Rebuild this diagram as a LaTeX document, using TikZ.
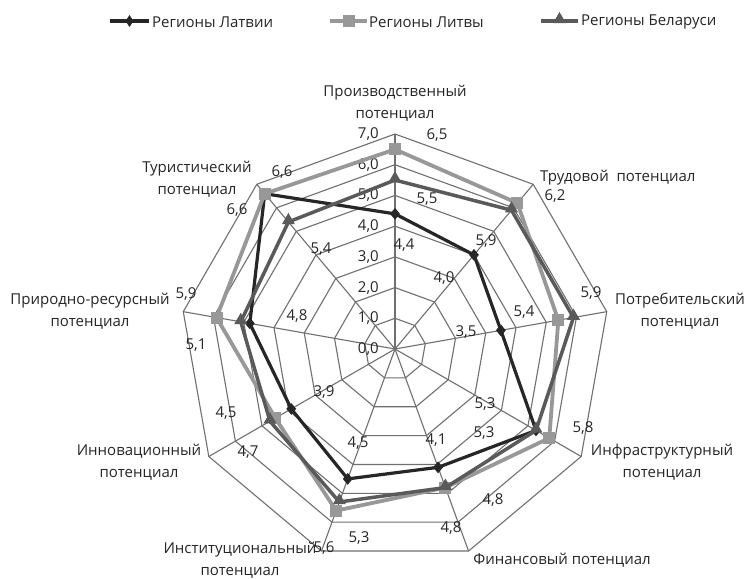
\documentclass[tikz,border=0pt]{standalone}
\usepackage{fontspec}
\setmainfont{Open Sans}
\usetikzlibrary{shapes.geometric,calc}
\definecolor{cLat}{HTML}{262626}
\definecolor{cLit}{HTML}{989898}
\definecolor{cBel}{HTML}{5A5A5A}
\definecolor{cGrid}{HTML}{707070}
\tikzset{
  gridline/.style={draw=cGrid,line width=1.1pt},
  latline/.style={draw=cLat,line width=3.2pt,line join=round},
  litline/.style={draw=cLit,line width=3.8pt,line join=round},
  belline/.style={draw=cBel,line width=3.5pt,line join=round},
  latmark/.style={diamond,fill=cLat,draw=none,minimum width=10pt,minimum height=12pt,inner sep=0pt},
  litmark/.style={rectangle,fill=cLit,draw=none,minimum size=12pt,inner sep=0pt},
  belmark/.style={regular polygon,regular polygon sides=3,fill=cBel,draw=none,minimum size=15pt,inner sep=0pt},
  vlab/.style={font=\fontsize{15}{18}\selectfont,inner sep=0pt,text=black!85},
  alab/.style={font=\fontsize{15}{22}\selectfont,inner sep=0pt,align=center,text=black!85},
  leg/.style={font=\fontsize{15}{18}\selectfont,inner sep=0pt,anchor=west,text=black!85}
}
\begin{document}
\begin{tikzpicture}[x=1pt,y=-1pt]
\useasboundingbox (0,0) rectangle (749,578);
\fill[white] (0,0) rectangle (749,578);
\coordinate (C) at (395,349);
\def\u{30.714}
% grid coordinates
\foreach \r in {1,...,7}{
  \foreach \k in {0,...,8}{
    \coordinate (g\r-\k) at ($(C)+(-90+40*\k:\r*\u)$);
  }
}
\foreach \r in {1,...,7}{
  \draw[gridline] (g\r-0)--(g\r-1)--(g\r-2)--(g\r-3)--(g\r-4)--(g\r-5)--(g\r-6)--(g\r-7)--(g\r-8)--cycle;
}
\foreach \k in {0,...,8}{
  \draw[gridline] (C)--(g7-\k);
}
% tick labels
\foreach \r/\t in {0/{0,0},1/{1,0},2/{2,0},3/{3,0},4/{4,0},5/{5,0},6/{6,0},7/{7,0}}{
  \node[vlab,anchor=east] (tick\r) at ($(C)+(-16,-\r*\u)$) {\t};
}
% series coordinates
\foreach \v [count=\i from 0] in {4.4,4.0,3.5,5.3,4.1,4.5,3.9,4.8,6.6}{
  \coordinate (lat\i) at ($(C)+(-90+40*\i:\v*\u)$);
}
\foreach \v [count=\i from 0] in {6.5,6.2,5.4,5.8,4.8,5.6,4.5,5.9,6.6}{
  \coordinate (lit\i) at ($(C)+(-90+40*\i:\v*\u)$);
}
\foreach \v [count=\i from 0] in {5.5,5.9,5.9,5.3,4.8,5.3,4.7,5.1,5.4}{
  \coordinate (bel\i) at ($(C)+(-90+40*\i:\v*\u)$);
}
\draw[latline] (lat0)--(lat1)--(lat2)--(lat3)--(lat4)--(lat5)--(lat6)--(lat7)--(lat8)--cycle;
\foreach \i in {0,...,8}{\node[latmark] (latm\i) at (lat\i) {};}
\draw[litline] (lit0)--(lit1)--(lit2)--(lit3)--(lit4)--(lit5)--(lit6)--(lit7)--(lit8)--cycle;
\foreach \i in {0,...,8}{\node[litmark] (litm\i) at (lit\i) {};}
\draw[belline] (bel0)--(bel1)--(bel2)--(bel3)--(bel4)--(bel5)--(bel6)--(bel7)--(bel8)--cycle;
\foreach \i in {0,...,8}{\node[belmark] (belm\i) at ($(bel\i)+(0,-1.5)$) {};}
% value labels
\node[vlab] (v01) at (437,135) {6,5};
\node[vlab] (v02) at (427,199) {5,5};
\node[vlab] (v03) at (404,245) {4,4};
\node[vlab] (v11) at (555,196) {6,2};
\node[vlab] (v12) at (486,241) {5,9};
\node[vlab] (v13) at (444,278) {4,0};
\node[vlab] (v21) at (591,293) {5,9};
\node[vlab] (v22) at (524,312) {5,4};
\node[vlab] (v23) at (466,332) {3,5};
\node[vlab] (v31) at (583,428) {5,8};
\node[vlab] (v32) at (485,404) {5,3};
\node[vlab] (v33) at (484,433) {5,3};
\node[vlab] (v41) at (436,440) {4,1};
\node[vlab] (v42) at (493,500) {4,8};
\node[vlab] (v43) at (451,528) {4,8};
\node[vlab] (v51) at (324,548) {5,6};
\node[vlab] (v52) at (359,538) {5,3};
\node[vlab] (v53) at (358,443) {4,5};
\node[vlab] (v61) at (226,413) {4,5};
\node[vlab] (v62) at (248,452) {4,7};
\node[vlab] (v63) at (324,392) {3,9};
\node[vlab] (v71) at (186,294) {5,9};
\node[vlab] (v72) at (196,345) {5,1};
\node[vlab] (v73) at (297,316) {4,8};
\node[vlab] (v81) at (282,172) {6,6};
\node[vlab] (v82) at (237,210) {6,6};
\node[vlab] (v83) at (321,249) {5,4};
% axis labels
\node[alab] (a0) at (395,103.5) {Производственный\\потенциал};
\node[alab,anchor=west] (a1) at (540,178) {Трудовой\ \ потенциал};
\node[alab] (a2) at (680,311.5) {Потребительский\\потенциал};
\node[alab] (a3) at (662,462) {Инфраструктурный\\потенциал};
\node[alab] (a4) at (562,560) {Финансовый потенциал};
\node[alab] (a5) at (240,560.5) {Институциональный\\потенциал};
\node[alab] (a6) at (139,462.5) {Инновационный\\потенциал};
\node[alab] (a7) at (90,311.5) {Природно-ресурсный\\потенциал};
\node[alab] (a8) at (197,179) {Туристический\\потенциал};
% legend
\coordinate (l1a) at (110,21); \coordinate (l1b) at (149,21);
\draw[latline] (l1a)--(l1b);
\node[latmark,minimum width=8pt] (lm1) at ($(l1a)!0.5!(l1b)$) {};
\node[leg] (lt1) at (152,22) {Регионы Латвии};
\coordinate (l2a) at (330,21); \coordinate (l2b) at (367,21);
\draw[litline] (l2a)--(l2b);
\node[litmark] (lm2) at ($(l2a)!0.5!(l2b)$) {};
\node[leg] (lt2) at (369,22) {Регионы Литвы};
\coordinate (l3a) at (541,21); \coordinate (l3b) at (578,21);
\draw[belline] (l3a)--(l3b);
\node[belmark] (lm3) at ($(l3a)!0.5!(l3b)+(0,-1.5)$) {};
\node[leg] (lt3) at (581,22) {Регионы Беларуси};
\end{tikzpicture}
\end{document}
